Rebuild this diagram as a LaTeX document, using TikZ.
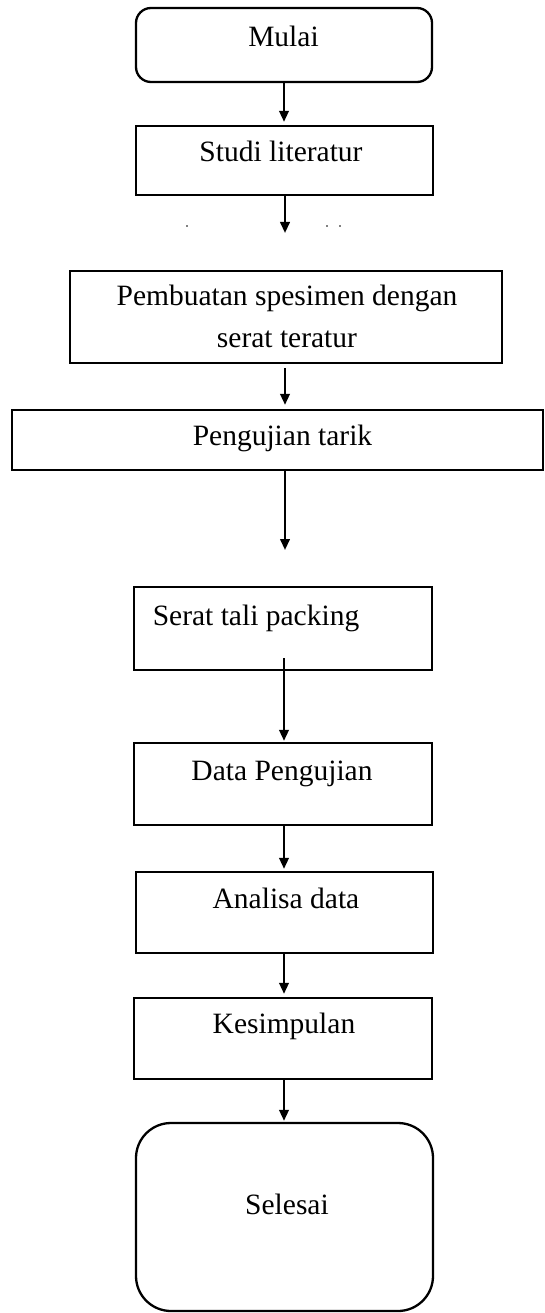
\documentclass[tikz,border=0pt]{standalone}
\usepackage{fontspec}
\setmainfont{Liberation Serif}
\usetikzlibrary{arrows.meta}

\begin{document}
\begin{tikzpicture}[x=1pt,y=-1pt, line width=2.3pt,
  kotak/.style={draw, rectangle, inner sep=0pt},
  ujung/.style={draw, rectangle, rounded corners=#1, inner sep=0pt},
  teks/.style={anchor=base, inner sep=0pt, font=\fontsize{29.5}{42}\selectfont},
  panah/.style={-{Triangle[length=11pt,width=9.5pt]}}]
\useasboundingbox (0,0) rectangle (544,1313);

% kotak-kotak
\node[ujung=15pt, minimum width=296pt, minimum height=74pt] (mulai) at (284,45) {};
\node[kotak, minimum width=297pt, minimum height=69pt] (studi) at (284.5,160.5) {};
\node[kotak, minimum width=432pt, minimum height=92pt] (buat) at (286,317) {};
\node[kotak, minimum width=531pt, minimum height=60pt] (uji) at (277.5,440) {};
\node[kotak, minimum width=298pt, minimum height=83pt] (serat) at (283,628.5) {};
\node[kotak, minimum width=298pt, minimum height=82pt] (data) at (283,784) {};
\node[kotak, minimum width=297pt, minimum height=81pt] (analisa) at (284.5,912.5) {};
\node[kotak, minimum width=298pt, minimum height=81pt] (simpul) at (283,1038.5) {};
\node[ujung=35pt, minimum width=297pt, minimum height=188pt] (selesai) at (284.5,1217) {};

% tulisan
\node[teks] (tmulai) at (283.5,47) {Mulai};
\node[teks] (tstudi) at (281,162) {Studi literatur};
\node[teks, anchor=center, align=center] (tbuat) at (287,316.5) {Pembuatan spesimen dengan\\serat teratur};
\node[teks] (tuji) at (282.5,445) {Pengujian tarik};
\node[teks] (tserat) at (256,625) {Serat tali packing};
\node[teks] (tdata) at (282,780) {Data Pengujian};
\node[teks] (tanalisa) at (286,908) {Analisa data};
\node[teks] (tsimpul) at (284,1033) {Kesimpulan};
\node[teks] (tselesai) at (287,1214) {Selesai};

% ujung panah yang lepas
\coordinate (a1) at (285,233);
\coordinate (a2) at (285,550);
\coordinate (a3) at (284,658);

% panah
\draw[panah, shorten >=3pt] (mulai.south -| a3) -- (studi.north -| a3);
\draw[panah] (studi.south -| a1) -- (a1);
\draw[panah, shorten <=4pt, shorten >=4pt] (buat.south -| a1) -- (uji.north -| a1);
\draw[panah, shorten <=-2pt] (uji.south -| a2) -- (a2);
\draw[panah, shorten >=1pt] (a3) -- (data.north -| a3);
\draw[panah, shorten >=2pt] (data.south -| a3) -- (analisa.north -| a3);
\draw[panah, shorten >=3pt] (analisa.south -| a3) -- (simpul.north -| a3);
\draw[panah, shorten >=1pt] (simpul.south -| a3) -- (selesai.north -| a3);

\foreach \x in {187,327,340}
\fill (\x,226) circle (0.9pt);

\end{tikzpicture}
\end{document}
